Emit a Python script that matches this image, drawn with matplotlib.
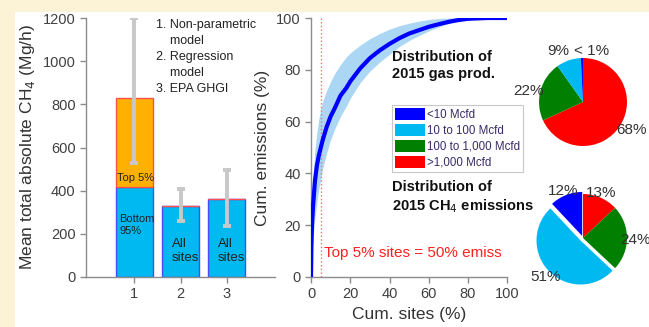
import matplotlib
matplotlib.use("Agg")
import matplotlib.pyplot as plt
from matplotlib.patches import Patch, Rectangle

plt.rcParams['font.family'] = ['Liberation Sans', 'DejaVu Sans']

# ---- data ----
models = [1, 2, 3]
bottom95 = [415, 330, 360]
top5 = [415, 0, 0]
err_low = [300, 70, 122]
err_high = [370, 80, 137]
bar_text = ['Bottom\n95%', 'All\nsites', 'All\nsites']

cum_sites = [0, 0.2, 0.5, 1, 1.5, 2, 3, 4, 5, 6, 8, 10, 12, 15, 18, 20, 25, 30, 35, 40,
             45, 50, 55, 60, 65, 70, 75, 80, 90, 100]
cum_emis = [0, 12, 20, 27, 32, 37, 43, 47, 50, 53, 58, 62, 65, 70, 73, 75.5, 80.5, 84.5, 87.5, 90,
            92.2, 94, 95.3, 96.6, 97.6, 98.5, 99.2, 99.7, 100, 100]
emis_low = [0, 5, 10, 15, 19, 23, 29, 34, 38, 42, 48, 53, 57, 62, 66, 69, 75, 79.5, 83, 86,
            89, 91.3, 93.2, 95, 96.5, 97.8, 98.8, 99.5, 100, 100]
emis_high = [0, 20, 30, 38, 44, 49, 56, 61, 65, 68, 72, 75.5, 78.5, 82, 85, 86.5, 89.5, 92, 94, 95.7,
             97, 98, 98.8, 99.4, 99.8, 100, 100, 100, 100, 100]

classes = ['<10 Mcfd', '10 to 100 Mcfd', '100 to 1,000 Mcfd', '>1,000 Mcfd']
class_colors = ['#0000FF', '#00B9F0', '#007F00', '#FF0000']
gas_share = [0.8, 9, 22, 68]
ch4_share = [12, 51, 24, 13]

tick_col = '#404040'
spine_col = '#8C8C8C'

fig = plt.figure(figsize=(6.49, 3.27), dpi=100, facecolor='#FCF2D6')
fig.patches.append(Rectangle((15 / 649, 0), 1, 1 - 12 / 327, transform=fig.transFigure,
                             facecolor='white', edgecolor='none', zorder=-10))


def style(ax):
    for s in ['top', 'right']:
        ax.spines[s].set_visible(False)
    for s in ['left', 'bottom']:
        ax.spines[s].set_color(spine_col)
        ax.spines[s].set_linewidth(1.0)
    ax.tick_params(colors=spine_col, labelcolor=tick_col, labelsize=10.5, length=4, width=1)
    ax.set_facecolor('none')


# ---- left: bars ----
ax1 = fig.add_axes([86 / 649, 50 / 327, 189 / 649, 259 / 327])
style(ax1)
ax1.bar(models, bottom95, width=0.8, color='#00B9F0', edgecolor='#4A4AFF', linewidth=1, zorder=2)
ax1.bar(models, top5, bottom=bottom95, width=0.8, color='#FFB000', edgecolor='#FF5050',
        linewidth=1, zorder=2)
tops = [b + t for b, t in zip(bottom95, top5)]
ax1.errorbar(models, tops, yerr=[err_low, err_high], fmt='none', ecolor='#C8C8C8',
             elinewidth=2.8, capsize=3, capthick=2.8, zorder=3)
ax1.set_xlim(-0.05, 4.05)
ax1.set_ylim(0, 1200)
ax1.set_xticks(models)
ax1.set_yticks(range(0, 1201, 200))
ax1.set_ylabel('Mean total absolute CH$_4$ (Mg/h)', fontsize=12.5, color='#333333', labelpad=4)
ax1.text(0.617, 460, 'Top 5%', fontsize=8, color='#222222', va='center', zorder=4)
ax1.text(0.667, 293, bar_text[0], fontsize=8, color='#222222', va='top', linespacing=1.3, zorder=4)
for x, t in zip(models[1:], bar_text[1:]):
    ax1.text(x - 0.19, 182, t, fontsize=9.5, color='#222222', va='top', linespacing=1.25, zorder=4)
fig.text(156 / 649, 1 - 19 / 327,
         '1. Non-parametric\n    model\n2. Regression\n    model\n3. EPA GHGI',
         fontsize=9, color='#222222', va='top', linespacing=1.45)

# ---- middle: cumulative curve ----
ax2 = fig.add_axes([311 / 649, 50 / 327, 196.3 / 649, 259 / 327])
style(ax2)
ax2.fill_between(cum_sites, emis_low, emis_high, color='#ABD7F5', linewidth=0, zorder=1)
ax2.plot(cum_sites, cum_emis, color='#0000FF', linewidth=3.0, zorder=3, solid_capstyle='butt')
ax2.axvline(5, color='#FF6A6A', linestyle=':', linewidth=1.0, zorder=2)
ax2.set_xlim(0, 100)
ax2.set_ylim(0, 100)
ax2.set_xticks(range(0, 101, 20))
ax2.set_yticks(range(0, 101, 20))
ax2.set_xlabel('Cum. sites (%)', fontsize=12.5, color='#333333', labelpad=4)
ax2.set_ylabel('Cum. emissions (%)', fontsize=12.5, color='#333333', labelpad=4)
ax2.text(6.6, 9.2, 'Top 5% sites = 50% emiss', color='#FF2020', fontsize=11, va='center')

# ---- titles and legend ----
fig.text(392 / 649, 1 - 50 / 327, 'Distribution of\n2015 gas prod.', fontsize=10.5,
         fontweight='bold', va='top', linespacing=1.25, color='#111111')
fig.text(392 / 649, 1 - 180 / 327, 'Distribution of\n2015 CH$_4$ emissions', fontsize=10.5,
         fontweight='bold', va='top', linespacing=1.25, color='#111111')
handles = [Patch(facecolor=c, edgecolor='none') for c in class_colors]
leg = fig.legend(handles, classes, loc='upper left', bbox_to_anchor=(392 / 649, 1 - 105 / 327),
                 borderaxespad=0, fontsize=8.3, handlelength=2.6, handleheight=1.2,
                 handletextpad=0.15, labelspacing=0.28, borderpad=0.25, fancybox=False,
                 framealpha=1, edgecolor='#C8C8C8', labelcolor='#3A2A6A')
leg.get_frame().set_linewidth(0.8)

# ---- pies ----
r = 44
pie_w, pie_h = 2 * 1.3 * r / 649, 2 * 1.3 * r / 327


def pie(cy, shares, explode, labels, label_xy):
    ax = fig.add_axes([(583 - 1.3 * r) / 649, (327 - cy - 1.3 * r) / 327, pie_w, pie_h])
    order = [3, 2, 1, 0]
    ax.pie([shares[i] for i in order], colors=[class_colors[i] for i in order],
           explode=[explode[i] for i in order], startangle=90, counterclock=False,
           wedgeprops=dict(linewidth=0))
    ax.set_xlim(-1.3, 1.3)
    ax.set_ylim(-1.3, 1.3)
    ax.set_aspect('equal')
    for t, (x, y) in zip(labels, label_xy):
        ax.text(x, y, t, ha='center', va='center', fontsize=11, color='#333333', clip_on=False)


pie(102, gas_share, [0, 0, 0, 0], ['< 1%', '9%', '22%', '68%'],
    [(0.19, 1.16), (-0.57, 1.16), (-1.25, 0.25), (1.11, -0.64)])
pie(238, ch4_share, [0.05, 0.08, 0, 0], ['12%', '51%', '24%', '13%'],
    [(-0.45, 1.07), (-0.86, -0.89), (1.2, -0.05), (0.41, 1.02)])

fig.savefig('out.png', dpi=100, facecolor=fig.get_facecolor())
